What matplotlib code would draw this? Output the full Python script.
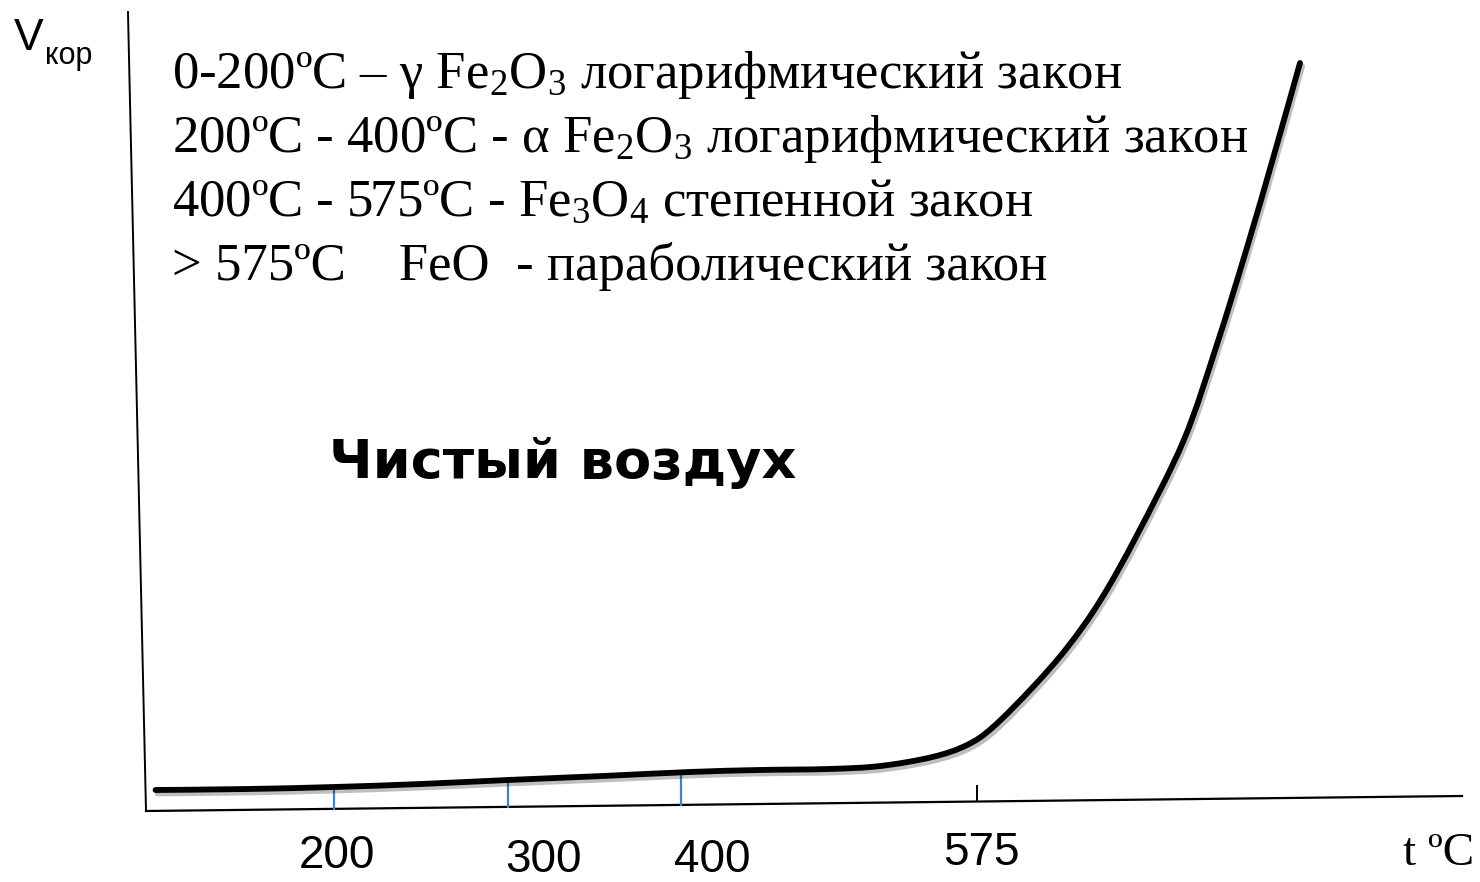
import numpy as np
import matplotlib.pyplot as plt
from matplotlib import patheffects as pe
from matplotlib.path import Path
from matplotlib.patches import PathPatch

plt.rcParams['mathtext.fontset'] = 'custom'
plt.rcParams['mathtext.rm'] = 'Liberation Serif'
plt.rcParams['mathtext.it'] = 'Liberation Serif:italic'

# corrosion rate of iron vs temperature (arbitrary units)
temp = [97, 150, 200, 250, 300, 355, 405, 445, 485, 515, 545, 565, 580,
        603, 623, 642, 663, 690, 709, 726, 742, 757]
rate = [2.1, 2.2, 2.4, 2.7, 3.1, 3.5, 3.9, 4.1, 4.2, 4.5, 5.4, 6.6, 8.4,
        12.4, 16.4, 21.1, 27.6, 37.1, 46.6, 56.1, 65.6, 74.8]

tick_temps = [200, 300, 400, 575]
tick_labels = ['200', '300', '400', '575']

header_lines = [
    '0-200ºC – γ Fe$_2$O$_3$ логарифмический закон',
    '200ºC - 400ºC - α Fe$_2$O$_3$ логарифмический закон',
    '400ºC - 575ºC - Fe$_3$O$_4$ степенной закон',
    '> 575ºC    FeO  - параболический закон',
]
note = 'Чистый воздух'

W, H = 1480, 882
fig = plt.figure(figsize=(W / 100, H / 100), dpi=100)
ax = fig.add_axes([0, 0, 1, 1])
ax.set_xlim(7.3, 860.8)
ax.set_ylim(-7.1, 81.1)
ax.axis('off')

# hand-drawn looking axes (slightly tilted)
ax.plot([81.1, 91.5], [79.9, 0.0], color='black', lw=1.4)
ax.plot([91.5, 850.4], [0.0, 1.5], color='black', lw=1.6)


def axis_v(t):
    return (t - 91.5) * 1.5 / (850.4 - 91.5)


def smooth_path(xs, ys):
    # Catmull-Rom through the points, drawn as cubic Bezier segments
    p = np.column_stack([xs, ys]).astype(float)
    p = np.vstack([p[0], p, p[-1]])
    verts = [p[1]]
    codes = [Path.MOVETO]
    for i in range(1, len(p) - 2):
        c1 = p[i] + (p[i + 1] - p[i - 1]) / 6
        c2 = p[i + 1] - (p[i + 2] - p[i]) / 6
        verts += [c1, c2, p[i + 1]]
        codes += [Path.CURVE4] * 3
    return Path(verts, codes)


# curve with soft shadow
curve = PathPatch(smooth_path(temp, rate), fill=False, edgecolor='black', lw=4.2,
                  capstyle='round', zorder=3,
                  path_effects=[pe.SimpleLineShadow(offset=(1.5, -2.5),
                                                    shadow_color='black', alpha=0.25),
                                pe.Normal()])
ax.add_patch(curve)

# tick marks
label_dx = [3, 36, 31, -3]
label_dy = [-57, -61, -61, -54]
for t, lab, dx, dy in zip(tick_temps, tick_labels, label_dx, label_dy):
    base = axis_v(t)
    if t < 500:
        ax.plot([t, t], [base, np.interp(t, temp, rate)], color='#4a7ebb', lw=1.6, zorder=2)
    else:
        ax.plot([t - 4, t - 4], [base + 0.1, base + 1.5], color='black', lw=1.4)
    ax.annotate(lab, xy=(t, 0), xytext=(dx, dy), textcoords='offset pixels',
                ha='center', va='baseline', fontsize=33, family='Liberation Sans')

# axis labels
fig.text(14 / W, 1 - 50 / H, 'V', fontsize=32, family='Liberation Sans', va='baseline')
fig.text(45 / W, 1 - 64 / H, 'кор', fontsize=22, family='Liberation Sans', va='baseline')
fig.text(1403 / W, 1 - 865 / H, 't ºC', fontsize=34, family='Liberation Serif', va='baseline')

# header text
for i, line in enumerate(header_lines):
    fig.text(172 / W, 1 - (88 + 64 * i) / H, line, fontsize=38,
             family='Liberation Serif', va='baseline')

fig.text(329 / W, 1 - 478 / H, note, fontsize=39, family='DejaVu Sans',
         fontweight='bold', va='baseline')

fig.savefig('out.png', dpi=100, facecolor='white')
